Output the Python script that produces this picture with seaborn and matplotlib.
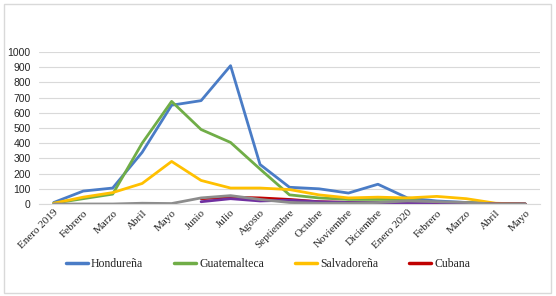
import numpy as np
import pandas as pd
import matplotlib
matplotlib.use("Agg")
import matplotlib.pyplot as plt
from matplotlib.patches import Rectangle
from matplotlib.lines import Line2D
import seaborn as sns

months = ["Enero 2019", "Febrero", "Marzo", "Abril", "Mayo", "Junio", "Julio",
          "Agosto", "Septiembre", "Octubre", "Noviembre", "Diciembre",
          "Enero 2020", "Febrero", "Marzo", "Abril", "Mayo"]

hondurena = [10, 85, 105, 340, 650, 680, 910, 260, 110, 100, 72, 130, 40, 20, 10, 3, 0]
guatemalteca = [5, 35, 65, 400, 675, 490, 405, 230, 60, 40, 30, 30, 30, 5, 10, 3, 0]
salvadorena = [5, 45, 75, 135, 280, 155, 105, 105, 95, 60, 40, 45, 40, 50, 35, 5, 0]
cubana = [np.nan, np.nan, np.nan, np.nan, np.nan, 35, 45, 40, 30, 15, 10, 10, 10, 5, 5, 0, 0]
otra1 = [np.nan, np.nan, np.nan, np.nan, np.nan, 15, 35, 20, 25, 15, 10, 10, 5, 10, 0, 0, 0]
otra2 = [0, 0, 0, 5, 3, 40, 55, 30, 10, 5, 5, 10, 20, 15, 10, 0, 0]

series_names = ["Hondureña", "Guatemalteca", "Salvadoreña", "Cubana", "Otra 1", "Otra 2"]
series_vals = [hondurena, guatemalteca, salvadorena, cubana, otra1, otra2]
colors = ["#4a7cc6", "#70ad47", "#ffc000", "#c00000", "#7030a0", "#8c8c8c"]

rows = []
for name, vals in zip(series_names, series_vals):
    for i, v in enumerate(vals):
        rows.append({"mes": i, "valor": v, "serie": name})
df = pd.DataFrame(rows)

sns.set_style("white")
fig = plt.figure(figsize=(5.56, 2.96), dpi=100)
ax = fig.add_axes([39/556, 1 - 204/296, 501/556, 152/296])

sns.lineplot(data=df, x="mes", y="valor", hue="serie", hue_order=series_names,
             palette=dict(zip(series_names, colors)), linewidth=2.0, ax=ax,
             legend=False, sort=False, estimator=None)

ax.set_xlim(-0.5, len(months) - 0.5)
ax.set_ylim(0, 1000)
ax.set_yticks(range(0, 1001, 100))
ax.yaxis.grid(True, color="#d9d9d9", linewidth=0.8)
ax.set_axisbelow(True)
for s in ["top", "right", "left"]:
    ax.spines[s].set_visible(False)
ax.spines["bottom"].set_color("#d9d9d9")
ax.set_xlabel("")
ax.set_ylabel("")
ax.set_xticks(range(len(months)))
ax.set_xticklabels(months, rotation=45, ha="right", rotation_mode="anchor",
                   fontfamily="Liberation Serif", fontsize=8)
ax.tick_params(axis="x", length=0, pad=3)
ax.tick_params(axis="y", length=0, pad=6)
for lab in ax.get_yticklabels():
    lab.set_fontfamily("Liberation Sans")
    lab.set_fontsize(7.5)

handles = [Line2D([0], [0], color=c, linewidth=2.5) for c in colors[:4]]
fig.legend(handles, series_names[:4], loc="center", bbox_to_anchor=(268/556, 1 - 264/296),
           ncol=4, frameon=False, handlelength=1.9, handletextpad=0.25,
           columnspacing=2.6, prop={"family": "Liberation Serif", "size": 8.5})

fig.patches.append(Rectangle((4/556, 1 - 293/296), 547/556, 289/296,
                             transform=fig.transFigure, fill=False,
                             edgecolor="#d9d9d9", linewidth=1.0))

fig.savefig("out.png", dpi=100)
